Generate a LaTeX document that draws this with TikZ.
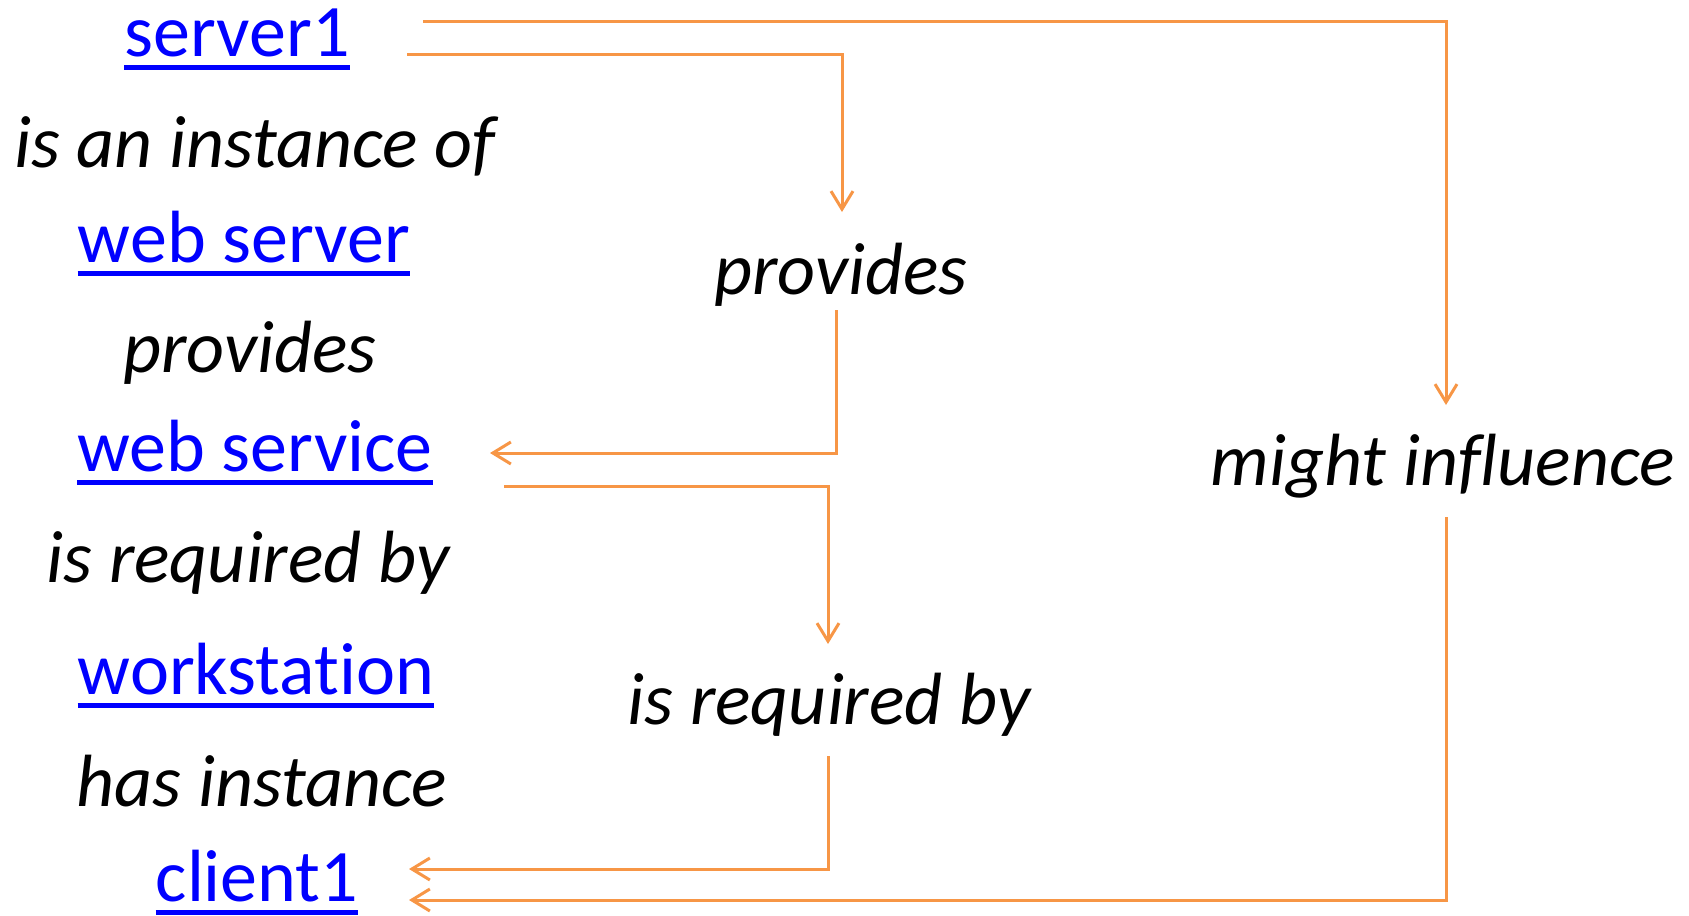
\documentclass[tikz,border=0pt]{standalone}
\usepackage{fontspec}
\setmainfont{Carlito}[Ligatures=CommonOff]
\usetikzlibrary{arrows.meta,calc}
\definecolor{relorange}{RGB}{247,150,70}
\definecolor{linkblue}{RGB}{0,0,255}
\tikzset{
    concept/.style={anchor=base, inner sep=0pt, text=linkblue,
		font=\fontsize{74bp}{80bp}\selectfont,
		append after command={($(\tikzlastnode.base west)+(0,11)$)
			edge[-, draw=linkblue, line width=5bp] ($(\tikzlastnode.base east)+(0,11)$)}},
    relation/.style={anchor=base, inner sep=0pt, text=black,
		font=\fontsize{74bp}{80bp}\selectfont\itshape},
    rel/.style={draw=relorange, line width=3bp,
		-{Straight Barb[length=18bp,width=22bp,line width=3bp]}}
}
\begin{document}
\begin{tikzpicture}[x=1bp,y=-1bp]
	\useasboundingbox (0,0) rectangle (1689,915);
	% left column
	\node[concept] (server1) at (237,56) {server1};
	\node[relation] (instof) at (255,167) {is an instance of};
	\node[concept] (websrv) at (244,262) {web server};
	\node[relation] (provL) at (250,372) {provides};
	\node[concept] (websvc) at (255,471) {web service};
	\node[relation] (reqL) at (248,582) {is required by};
	\node[concept] (workst) at (256,694) {workstation};
	\node[relation] (hasinst) at (262,806) {has instance};
	\node[concept] (client1) at (257,901) {client1};
	% inferred relations
	\node[relation] (provA) at (841,294) {provides};
	\node[relation] (reqA) at (829,724) {is required by};
	\node[relation] (influence) at (1443,485) {might influence};
	\draw[rel] ($(server1.base)+(186,-34.5)$) -| ($(influence.base)+(3,-80)$);
	\draw[rel] ($(server1.base)+(170,-2)$) -| ($(provA.base)+(1,-82)$);
	\draw[rel] ($(provA.base)+(-5,16)$) |- ($(websvc.base)+(235,-18)$);
	\draw[rel] ($(websvc.base)+(249,15)$) -| ($(reqA.base)+(-1,-80)$);
	\draw[rel] ($(reqA.base)+(-1,32)$) |- ($(client1.base)+(152,-32)$);
	\draw[rel] ($(influence.base)+(3,32)$) |- ($(client1.base)+(152,-1)$);
\end{tikzpicture}
\end{document}
